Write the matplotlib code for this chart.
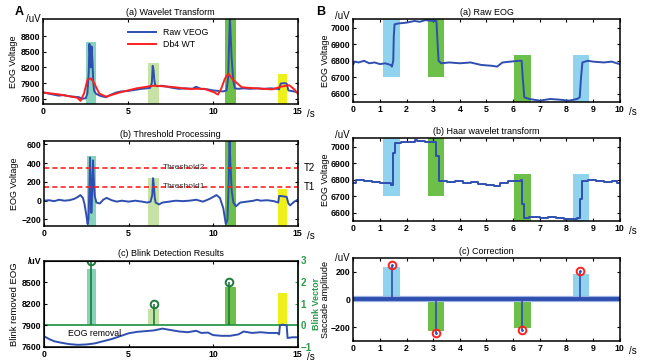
import matplotlib
matplotlib.use("Agg")
import matplotlib.pyplot as plt

plt.rcParams['font.family'] = ['Liberation Sans', 'DejaVu Sans']
plt.rcParams['font.size'] = 6

BLUE = '#2f4fb0'
RED = '#ff2020'
TEAL = '#86d3bb'
LGREEN = '#c6e2a4'
GREEN = '#6cbf48'
YELLOW = '#eef01a'
SKY = '#8fd3ef'
DKGREEN = '#1f7a3c'

# ---- Panel A data ----
# blink windows (start, end) in s and heights
blink_x = [(2.52, 3.1), (6.17, 6.8), (10.73, 11.36), (13.82, 14.37)]
blink_colors = [TEAL, LGREEN, GREEN, YELLOW]
blink_top_a = [8690, 8280, 9120, 8080]
blink_top_b = [475, 240, 640, 125]
blink_top_c = [2.6, 0.74, 1.77, 1.49]

t_raw = [0, 0.3, 0.6, 0.9, 1.2, 1.5, 1.8, 2.1, 2.3, 2.5, 2.6, 2.68, 2.72, 2.76, 2.8, 2.85, 2.9,
         2.95, 3.0, 3.1, 3.2, 3.4, 3.7, 4.0, 4.3, 4.6, 5.0, 5.4, 5.8, 6.1, 6.3, 6.4, 6.45, 6.5,
         6.55, 6.6, 6.7, 7.0, 7.3, 7.6, 8.0, 8.4, 8.8, 9.0, 9.3, 9.7, 10.0, 10.3, 10.6, 10.8,
         10.9, 10.95, 11.0, 11.05, 11.1, 11.2, 11.3, 11.5, 11.8, 12.2, 12.6, 13.0, 13.4, 13.8,
         13.9, 14.0, 14.2, 14.35, 14.45, 14.6, 14.8, 15.0]
raw_veog = [7720, 7700, 7680, 7660, 7670, 7650, 7640, 7630, 7600, 7610, 7700, 8100, 8650, 8400,
            8200, 8600, 8300, 7900, 7750, 7700, 7680, 7650, 7630, 7680, 7720, 7740, 7750, 7770,
            7790, 7800, 7810, 7900, 8230, 8150, 7950, 7860, 7840, 7850, 7830, 7810, 7790, 7800,
            7790, 7830, 7790, 7780, 7760, 7750, 7740, 7760, 8000, 8600, 9150, 8800, 8400, 7950,
            7800, 7790, 7800, 7790, 7800, 7790, 7800, 7790, 7780, 7890, 7900, 7890, 7760, 7750,
            7740, 7720]

t_db4 = [0, 1.0, 2.0, 2.2, 2.4, 2.6, 2.8, 3.0, 3.3, 3.7, 4.5, 5.5, 6.5, 7.5, 8.5, 9.5, 10.1,
         10.3, 10.5, 10.7, 10.9, 11.2, 11.7, 12.5, 13.5, 14.0, 14.5, 14.8, 15.0]
db4_wt = [7720, 7680, 7620, 7560, 7700, 7960, 7990, 7900, 7700, 7640, 7720, 7800, 7850, 7830,
          7790, 7790, 7720, 7680, 7800, 7980, 8080, 7960, 7820, 7800, 7780, 7830, 7860, 7780, 7700]

t_thr = [0, 0.3, 0.6, 0.9, 1.2, 1.5, 1.8, 2.0, 2.15, 2.3, 2.4, 2.5, 2.58, 2.63, 2.68, 2.72, 2.76,
         2.8, 2.85, 2.9, 2.95, 3.0, 3.1, 3.3, 3.5, 3.7, 4.0, 4.3, 4.6, 5.0, 5.4, 5.8, 6.1, 6.3,
         6.4, 6.45, 6.5, 6.55, 6.6, 6.8, 7.0, 7.4, 7.8, 8.2, 8.6, 9.0, 9.4, 9.8, 10.1, 10.2, 10.4,
         10.6, 10.75, 10.85, 10.92, 10.97, 11.02, 11.1, 11.2, 11.35, 11.6, 12.0, 12.4, 12.6, 12.8,
         13.2, 13.6, 13.85, 13.9, 14.0, 14.2, 14.35, 14.45, 14.55, 14.8, 15.0]
thr_sig = [0, 5, -5, 10, 0, 5, 20, 40, 60, 30, -40, -150, -250, -200, 100, 460, 200, -130, 100,
           430, 200, 50, -20, -30, 10, 30, 5, -10, 0, -10, 0, -10, -20, -10, 60, 240, 150, 30,
           -20, -40, -20, -10, 0, -5, 0, 10, -10, 20, 50, 60, 30, -80, -250, -200, 200, 640, 400,
           100, -20, -60, -20, -10, 0, 10, 0, 5, -5, -20, 50, 50, 45, 40, -30, -50, -10, 10]
threshold1 = 150
threshold2 = 350

t_rem = [0, 0.3, 0.6, 1.0, 1.5, 2.0, 2.5, 3.0, 3.5, 4.0, 4.5, 5.0, 5.5, 6.0, 6.5, 7.0, 7.5, 8.0,
         8.5, 9.0, 9.3, 9.7, 10.0, 10.5, 11.0, 11.5, 11.8, 12.3, 12.8, 13.3, 13.8, 13.9, 13.95,
         14.1, 14.35, 14.4, 14.7, 15.0]
removed = [7750, 7710, 7680, 7660, 7640, 7630, 7635, 7650, 7680, 7710, 7750, 7790, 7810, 7820,
           7830, 7855, 7835, 7815, 7805, 7825, 7795, 7800, 7765, 7755, 7755, 7775, 7815, 7795,
           7805, 7795, 7795, 7775, 7900, 7910, 7900, 7725, 7735, 7735]

blink_t = [2.75, 6.5, 10.95]
blink_vec = [3, 1, 2]

# ---- Panel B data ----
sacc_x = [(1.13, 1.74), (2.79, 3.40), (6.05, 6.66), (8.24, 8.85)]
sacc_colors = [SKY, GREEN, GREEN, SKY]
sacc_span_eog = [(6700, 7050), (6700, 7050), (6550, 6832), (6550, 6832)]
sacc_span_amp = [(0, 232), (0, -225), (0, -204), (0, 182)]

t_eog = [0, 0.05, 0.2, 0.4, 0.6, 0.8, 1.0, 1.2, 1.4, 1.45, 1.5, 1.52, 1.55, 1.7, 2.0, 2.3, 2.5,
         2.7, 3.0, 3.12, 3.15, 3.2, 3.3, 3.6, 4.0, 4.4, 4.8, 5.2, 5.4, 5.6, 5.9, 6.2, 6.32, 6.36,
         6.42, 6.6, 7.0, 7.4, 7.8, 8.1, 8.4, 8.5, 8.55, 8.6, 8.8, 9.0, 9.4, 9.7, 10.0]
raw_eog = [6780, 6795, 6790, 6800, 6785, 6790, 6780, 6785, 6775, 6765, 6800, 6950, 7020, 7025,
           7030, 7040, 7035, 7045, 7040, 7040, 6950, 6800, 6785, 6790, 6785, 6790, 6775, 6770,
           6765, 6790, 6795, 6800, 6800, 6700, 6580, 6570, 6560, 6570, 6565, 6560, 6570, 6580,
           6700, 6790, 6800, 6795, 6790, 6795, 6780]

t_haar = [0, 0.1, 0.4, 0.7, 1.0, 1.2, 1.4, 1.5, 1.55, 1.8, 2.1, 2.3, 2.4, 2.7, 3.0, 3.1, 3.2,
          3.5, 3.8, 4.1, 4.4, 4.7, 5.0, 5.3, 5.5, 5.8, 6.1, 6.3, 6.35, 6.4, 6.6, 7.0, 7.3, 7.6,
          7.9, 8.2, 8.4, 8.5, 8.6, 8.8, 9.1, 9.4, 9.7, 9.9, 10.0]
haar_eog = [6780, 6795, 6790, 6785, 6780, 6780, 6770, 6960, 7020, 7025, 7030, 7040, 7035, 7030,
            7030, 6940, 6790, 6785, 6790, 6780, 6785, 6775, 6770, 6760, 6780, 6790, 6790, 6795,
            6650, 6570, 6575, 6570, 6575, 6570, 6565, 6560, 6570, 6680, 6790, 6795, 6790, 6785,
            6790, 6780, 6780]

sacc_t = [1.45, 3.12, 6.35, 8.52]
sacc_amp = [247, -240, -218, 204]

LW = 1.4


def style(ax, right=True):
    ax.tick_params(direction='in', length=2.5, width=0.8, top=True, right=right, pad=2,
                   labelsize=6.3)
    for lab in ax.get_xticklabels() + ax.get_yticklabels():
        lab.set_fontweight('bold')
    for s in ax.spines.values():
        s.set_linewidth(1.1)


def seconds(ax):
    ax.annotate('/s', xy=(1, 0), xycoords='axes fraction', xytext=(7, -7),
                textcoords='offset points', ha='left', va='center', fontsize=7)


fig = plt.figure(figsize=(6.48, 3.62), dpi=100)

# ---------- A (a) ----------
ax = fig.add_axes([0.0668, 1 - 104 / 362, 0.3926, 84.7 / 362])
for (x0, x1), c, top in zip(blink_x, blink_colors, blink_top_a):
    ax.fill_between([x0, x1], 7500, top, color=c, lw=0)
ax.plot(t_raw, raw_veog, color=BLUE, lw=LW, label='Raw VEOG')
ax.plot(t_db4, db4_wt, color=RED, lw=LW, label='Db4 WT')
ax.set_xlim(0, 15)
ax.set_ylim(7500, 9120)
ax.set_xticks([0, 5, 10, 15])
ax.set_yticks([7600, 7900, 8200, 8500, 8800])
ax.set_title('(a) Wavelet Transform', fontsize=6.5, pad=3)
ax.set_ylabel('EOG Voltage', fontsize=6.5, labelpad=2)
ax.legend(loc='upper left', bbox_to_anchor=(0.31, 0.97), frameon=False, fontsize=6.3,
          handlelength=3.2, labelspacing=0.3, borderpad=0.2)
ax.text(-0.01, 1.0, '/uV', transform=ax.transAxes, ha='right', va='center', fontsize=7)
style(ax)
seconds(ax)

# ---------- A (b) ----------
ax = fig.add_axes([0.0679, 1 - 226 / 362, 0.3915, 85.3 / 362])
for (x0, x1), c, top in zip(blink_x, blink_colors, blink_top_b):
    ax.fill_between([x0, x1], -270, top, color=c, lw=0)
ax.plot(t_thr, thr_sig, color=BLUE, lw=LW)
ax.axhline(threshold2, color=RED, ls='--', lw=1.2, dashes=(3, 2))
ax.axhline(threshold1, color=RED, ls='--', lw=1.2, dashes=(3, 2))
ax.text(7.0, threshold2, 'Threshold2', fontsize=6, va='center', color='#333333')
ax.text(7.0, threshold1, 'Threshold1', fontsize=6, va='center', color='#333333')
ax.text(15.35, threshold2, 'T2', fontsize=7, va='center')
ax.text(15.35, threshold1, 'T1', fontsize=7, va='center')
ax.set_xlim(0, 15)
ax.set_ylim(-270, 640)
ax.set_xticks([0, 5, 10, 15])
ax.set_yticks([-200, 0, 200, 400, 600])
ax.set_title('(b) Threshold Processing', fontsize=6.5, pad=3)
ax.set_ylabel('EOG Voltage', fontsize=6.5, labelpad=2)
style(ax)
seconds(ax)

# ---------- A (c) ----------
ax = fig.add_axes([0.0679, 1 - 347 / 362, 0.3915, 86.5 / 362])
ax2 = ax.twinx()
for (x0, x1), c, top in zip(blink_x, blink_colors, blink_top_c):
    ax2.fill_between([x0, x1], 0, top, color=c, lw=0)
ax2.axhline(0, color='#2a9a4a', lw=1.3)
ax2.vlines(blink_t, 0, blink_vec, color=DKGREEN, lw=1.2)
ax2.plot(blink_t, blink_vec, 'o', mfc='none', mec=DKGREEN, mew=1.4, ms=5.5)
ax2.set_ylim(-1, 3)
ax2.set_yticks([-1, 0, 1, 2, 3])
ax2.set_ylabel('Blink Vector', color='#2a9a4a', fontsize=6.5, fontweight='bold')
ax2.yaxis.set_label_coords(1.058, 0.5)
ax2.tick_params(direction='in', length=2.5, colors='#2a9a4a', labelsize=7, pad=2)
for lab in ax2.get_yticklabels():
    lab.set_fontweight('bold')
ax2.spines['right'].set_color('#2a9a4a')
ax2.spines['right'].set_linewidth(1.1)
ax.plot(t_rem, removed, color=BLUE, lw=LW)
ax.text(1.4, 7790, 'EOG removal', fontsize=6.3, va='center')
ax.set_xlim(0, 15)
ax.set_ylim(7600, 8800)
ax.set_xticks([0, 5, 10, 15])
ax.set_yticks([7600, 7900, 8200, 8500, 8800])
ax.set_yticklabels(['7600', '7900', '8200', '8500', '/uV'])
ax.set_title('(c) Blink Detection Results', fontsize=6.5, pad=3)
ax.set_ylabel('Blink removed EOG', fontsize=6.8, labelpad=2)
style(ax, right=False)
ax.set_zorder(ax2.get_zorder() + 1)
ax.patch.set_visible(False)
seconds(ax)

# ---------- B (a) ----------
ax = fig.add_axes([0.5452, 1 - 102.3 / 362, 0.4111, 83 / 362])
for (x0, x1), c, (y0, y1) in zip(sacc_x, sacc_colors, sacc_span_eog):
    ax.fill_between([x0, x1], y0, y1, color=c, lw=0)
ax.plot(t_eog, raw_eog, color=BLUE, lw=LW)
ax.set_xlim(0, 10)
ax.set_ylim(6550, 7050)
ax.set_xticks(range(11))
ax.set_yticks([6600, 6700, 6800, 6900, 7000])
ax.set_title('(a) Raw EOG', fontsize=6.5, pad=3)
ax.set_ylabel('EOG Voltage', fontsize=6.5)
ax.yaxis.set_label_coords(-0.088, 0.5)
ax.text(-0.015, 1.04, '/uV', transform=ax.transAxes, ha='right', va='center', fontsize=7)
style(ax)
seconds(ax)

# ---------- B (b) ----------
ax = fig.add_axes([0.5452, 1 - 221 / 362, 0.4111, 82.7 / 362])
for (x0, x1), c, (y0, y1) in zip(sacc_x, sacc_colors, sacc_span_eog):
    ax.fill_between([x0, x1], y0, y1, color=c, lw=0)
ax.plot(t_haar, haar_eog, color=BLUE, lw=LW, drawstyle='steps-post')
ax.set_xlim(0, 10)
ax.set_ylim(6550, 7050)
ax.set_xticks(range(11))
ax.set_yticks([6600, 6700, 6800, 6900, 7000])
ax.set_title('(b) Haar wavelet transform', fontsize=6.5, pad=3)
ax.set_ylabel('EOG Voltage', fontsize=6.5)
ax.yaxis.set_label_coords(-0.088, 0.5)
ax.text(-0.015, 1.04, '/uV', transform=ax.transAxes, ha='right', va='center', fontsize=7)
style(ax)
seconds(ax)

# ---------- B (c) ----------
ax = fig.add_axes([0.5452, 1 - 341 / 362, 0.4111, 83.3 / 362])
for (x0, x1), c, (y0, y1) in zip(sacc_x, sacc_colors, sacc_span_amp):
    ax.fill_between([x0, x1], y0, y1, color=c, lw=0)
ax.axhline(0, color='#9fb3e0', lw=4.5)
ax.axhline(0, color=BLUE, lw=2.8)
ax.vlines(sacc_t, 0, sacc_amp, color=BLUE, lw=1.2)
ax.plot(sacc_t, sacc_amp, 'o', mfc='none', mec=RED, mew=1.4, ms=5.5)
ax.plot(sacc_t, sacc_amp, '.', color=BLUE, ms=2)
ax.set_xlim(0, 10)
ax.set_ylim(-300, 300)
ax.set_xticks(range(11))
ax.set_yticks([-200, 0, 200])
ax.set_title('(c) Correction', fontsize=6.5, pad=3)
ax.set_ylabel('Saccade amplitude', fontsize=6.5)
ax.yaxis.set_label_coords(-0.088, 0.5)
ax.text(-0.015, 1.0, '/uV', transform=ax.transAxes, ha='right', va='center', fontsize=7)
style(ax)
seconds(ax)

fig.text(15 / 648, 1 - 12 / 362, 'A', fontsize=9, fontweight='bold', ha='left', va='center')
fig.text(316 / 648, 1 - 12 / 362, 'B', fontsize=9, fontweight='bold', ha='left', va='center')

fig.savefig('out.png', dpi=100)
